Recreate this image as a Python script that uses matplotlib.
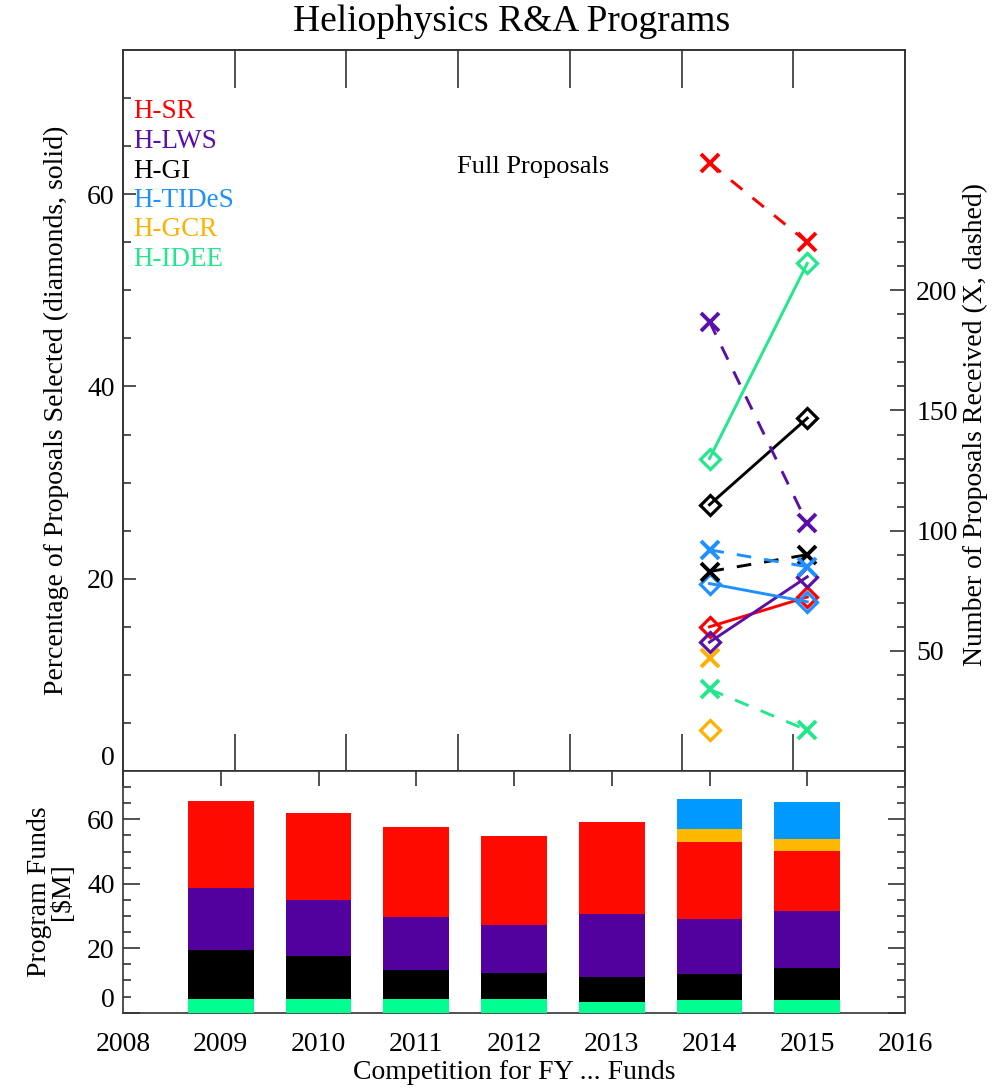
import numpy as np
import matplotlib.pyplot as plt
from matplotlib.ticker import FixedLocator, NullFormatter

plt.rcParams['font.family'] = ['Liberation Serif', 'DejaVu Serif']

# programs, in legend order
programs = ['H-SR', 'H-LWS', 'H-GI', 'H-TIDeS', 'H-GCR', 'H-IDEE']

# full proposals (top panel)
prop_years = [2014, 2015]
pct_selected = {
    'H-SR': [15.0, 18.1],
    'H-LWS': [13.4, 20.2],
    'H-GI': [27.7, 36.7],
    'H-TIDeS': [19.5, 17.6],
    'H-GCR': [4.3, np.nan],
    'H-IDEE': [32.5, 52.8],
}
n_received = {
    'H-SR': [253, 220],
    'H-LWS': [187, 103],
    'H-GI': [83, 90],
    'H-TIDeS': [92, 85],
    'H-GCR': [47, np.nan],
    'H-IDEE': [34, 17],
}

# program funds in $M (bottom panel), stacked from the bottom up
fund_years = [2009, 2010, 2011, 2012, 2013, 2014, 2015]
funds_idee = [4.2, 4.2, 4.2, 4.2, 3.4, 3.8, 3.8]
funds_gi = [15.1, 13.5, 8.9, 8.0, 7.7, 8.1, 10.1]
funds_lws = [19.5, 17.2, 16.7, 14.9, 19.5, 17.2, 17.5]
funds_sr = [26.8, 27.2, 27.9, 27.6, 28.5, 23.8, 18.8]
funds_gcr = [0, 0, 0, 0, 0, 4.1, 3.7]
funds_tides = [0, 0, 0, 0, 0, 9.3, 11.4]

line_colors = {'H-SR': '#ff0000', 'H-LWS': '#5a10a8', 'H-GI': '#000000',
               'H-TIDeS': '#1e90ff', 'H-GCR': '#ffb000', 'H-IDEE': '#22e88c'}
bar_colors = {'H-SR': '#ff0a00', 'H-LWS': '#52009e', 'H-GI': '#000000',
              'H-TIDeS': '#0099ff', 'H-GCR': '#ffb800', 'H-IDEE': '#00ff90'}

FRAME = '#333333'


def style_frame(ax):
    for s in ax.spines.values():
        s.set_color(FRAME)
        s.set_linewidth(1.2)


def bottom_align_zero(ax):
    # the 0 label sits just above the bottom edge
    for lbl in ax.get_yticklabels():
        if lbl.get_text() == '0':
            lbl.set_verticalalignment('bottom')


def draw_top(fig):
    ax = fig.add_axes([0.123, 0.2933, 0.782, 0.6609])
    ax2 = ax.twinx()
    ax.set_xlim(2008, 2016)
    ax.set_ylim(0, 75)
    ax2.set_ylim(0, 300)

    for p in programs:
        c = line_colors[p]
        ax.plot(prop_years, pct_selected[p], color=c, lw=2.1, marker='D', ms=10,
                mfc='none', mec=c, mew=2.3)
        ax2.plot(prop_years, n_received[p], color=c, lw=2.1, ls='--', dashes=(5, 4.5),
                 marker='x', ms=13, mew=2.8)

    # top panel x ticks: 7 equal intervals, no labels
    xt = [2008 + 8 * k / 7 for k in range(1, 7)]
    ax.xaxis.set_major_locator(FixedLocator(xt))
    ax.xaxis.set_major_formatter(NullFormatter())
    ax.tick_params(axis='x', which='major', direction='in', top=True, bottom=True,
                   length=27, width=1.2, color=FRAME)

    ax.set_yticks([0, 20, 40, 60])
    ax.yaxis.set_minor_locator(FixedLocator(np.arange(5, 75, 5)))
    ax.tick_params(axis='y', which='major', direction='in', length=9, width=1.2,
                   color=FRAME, labelsize=20, pad=6)
    ax.tick_params(axis='y', which='minor', direction='in', length=6, width=1.2, color=FRAME)

    ax2.set_yticks([50, 100, 150, 200])
    ax2.yaxis.set_minor_locator(FixedLocator([v for v in range(10, 250, 10) if v % 50]))
    ax2.tick_params(axis='y', which='major', direction='in', length=11, width=1.2,
                    color=FRAME, labelsize=20, pad=8)
    ax2.tick_params(axis='y', which='minor', direction='in', length=6, width=1.2, color=FRAME)

    ax.set_ylabel('Percentage of Proposals Selected (diamonds, solid)', fontsize=20)
    ax.yaxis.set_label_coords(-0.069, 0.5)
    ax2.set_ylabel('Number of Proposals Received (X, dashed)', fontsize=20)
    ax2.yaxis.set_label_coords(1.074, 0.48)

    for i, p in enumerate(programs):
        fig.text(0.133, 1 - (112 + 29.5 * i) / 1091, p, color=line_colors[p],
                 fontsize=19.5, ha='left', va='center')

    fig.text(0.533, 1 - 167 / 1091, 'Full Proposals', fontsize=19, ha='center', va='center')

    style_frame(ax)
    style_frame(ax2)
    bottom_align_zero(ax)
    return ax


def draw_funds(fig):
    ax = fig.add_axes([0.123, 0.0718, 0.782, 0.2215])
    ax.set_xlim(2008, 2016)
    ax.set_ylim(0, 75)

    stack = [('H-IDEE', funds_idee), ('H-GI', funds_gi), ('H-LWS', funds_lws),
             ('H-SR', funds_sr), ('H-GCR', funds_gcr), ('H-TIDeS', funds_tides)]
    base = np.zeros(len(fund_years))
    for p, vals in stack:
        vals = np.array(vals, dtype=float)
        ax.bar(fund_years, vals, bottom=base, width=0.675, color=bar_colors[p],
               edgecolor='none', zorder=3)
        base += vals

    ax.set_xticks(range(2008, 2017))
    ax.tick_params(axis='x', which='major', direction='in', top=True, bottom=False,
                   length=11, width=1.2, color=FRAME, labelsize=20, pad=14)
    ax.set_yticks([0, 20, 40, 60])
    ax.yaxis.set_minor_locator(FixedLocator(np.arange(5, 75, 5)))
    ax.tick_params(axis='y', which='major', direction='in', left=True, right=True,
                   length=12, width=1.2, color=FRAME, labelsize=20, pad=6)
    ax.tick_params(axis='y', which='minor', direction='in', left=True, right=True,
                   length=6, width=1.2, color=FRAME)

    ax.set_ylabel('Program Funds\n[$M]', fontsize=20, linespacing=0.85)
    ax.yaxis.set_label_coords(-0.062, 0.5)
    ax.set_xlabel('Competition for FY ... Funds', fontsize=20)
    ax.xaxis.set_label_coords(0.5, -0.196)
    ax.xaxis.label.set_verticalalignment('top')

    style_frame(ax)
    bottom_align_zero(ax)
    return ax


if __name__ == '__main__':
    fig = plt.figure(figsize=(10, 10.91), dpi=100)
    draw_top(fig)
    draw_funds(fig)
    fig.text(0.512, 1 - 22 / 1091, 'Heliophysics R&A Programs', fontsize=27,
             ha='center', va='center')
    fig.savefig('out.png', dpi=100)
